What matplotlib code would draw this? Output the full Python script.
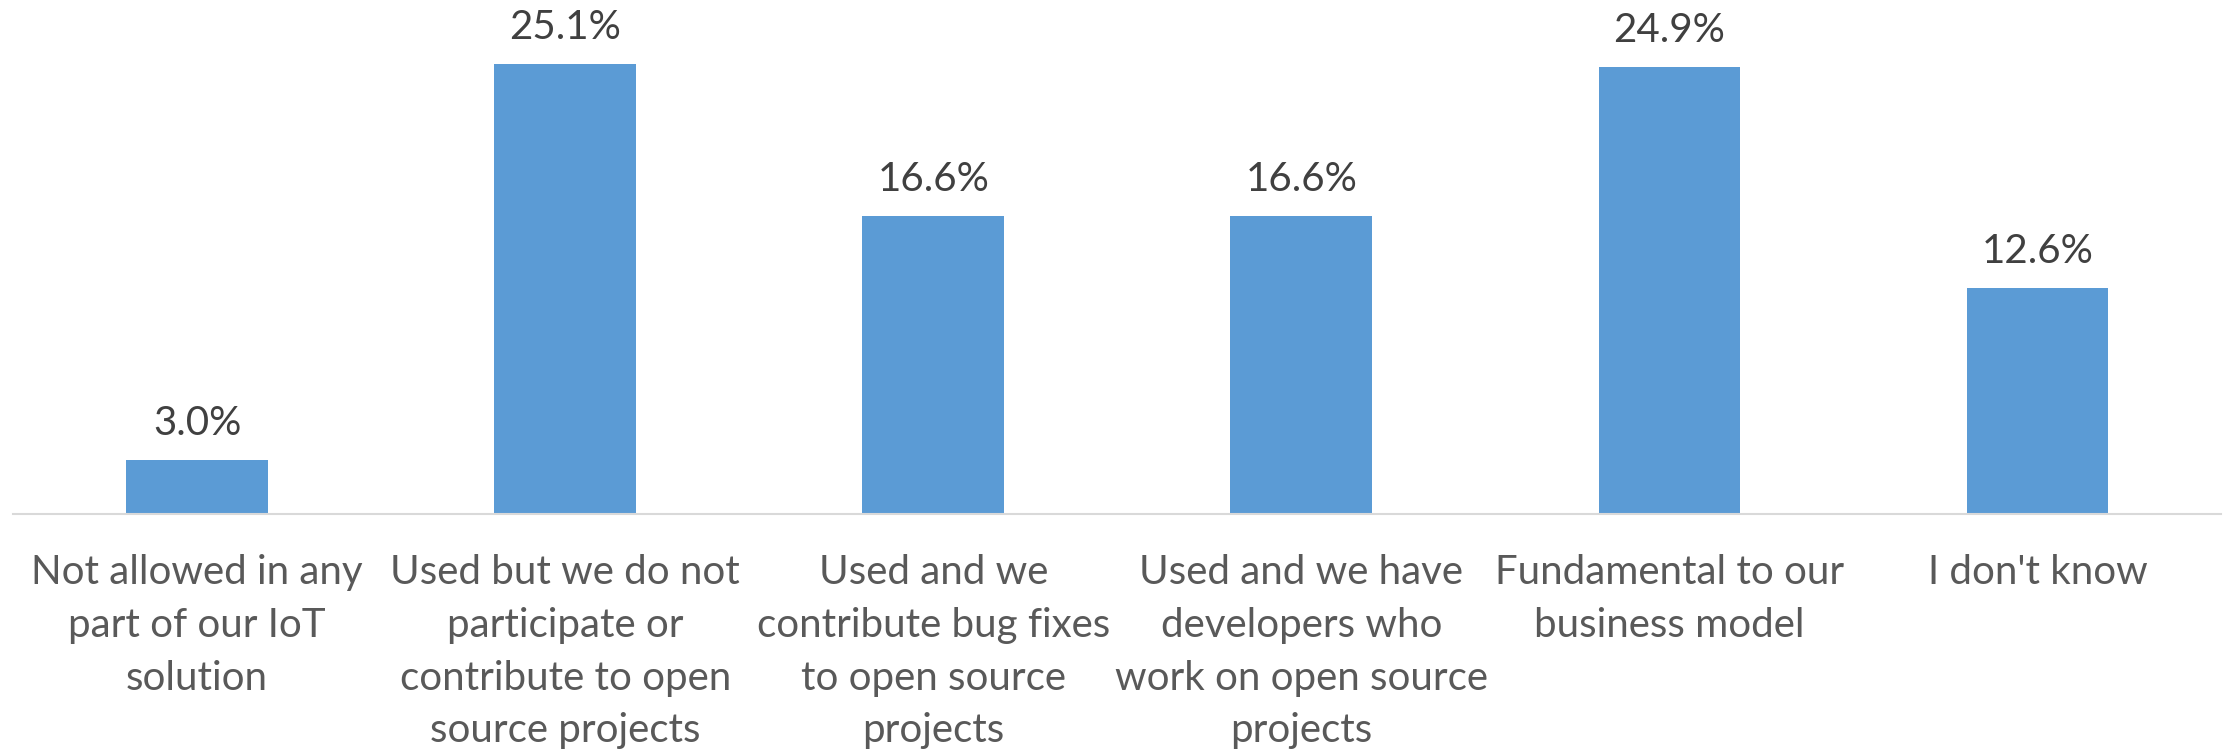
import matplotlib.pyplot as plt
import numpy as np

categories = [
    "Not allowed in any\npart of our IoT\nsolution",
    "Used but we do not\nparticipate or\ncontribute to open\nsource projects",
    "Used and we\ncontribute bug fixes\nto open source\nprojects",
    "Used and we have\ndevelopers who\nwork on open source\nprojects",
    "Fundamental to our\nbusiness model",
    "I don't know",
]
values = [3.0, 25.1, 16.6, 16.6, 24.9, 12.6]
value_labels = ["3.0%", "25.1%", "16.6%", "16.6%", "24.9%", "12.6%"]

plt.rcParams['font.family'] = ['Lato', 'DejaVu Sans']

fig = plt.figure(figsize=(22.23, 7.49), dpi=100)
ax = fig.add_axes([0.0059, 0.3144, 0.9934, 0.67])

x = np.arange(len(values))
bars = ax.bar(x, values, width=0.385, color='#5B9BD5', zorder=2)

for xi, v, lab in zip(x, values, value_labels):
    ax.annotate(lab, (xi, v), xytext=(0, 13), textcoords='offset points',
                ha='center', va='bottom', fontsize=29, color='#404040')

ax.set_xlim(-0.5, len(values) - 0.5)
ax.set_ylim(0, 28)
ax.set_xticks(x)
ax.set_xticklabels(categories, fontsize=29, color='#595959', linespacing=1.53)
ax.tick_params(axis='x', length=0, pad=29)
ax.set_yticks([])

for s in ['top', 'right', 'left']:
    ax.spines[s].set_visible(False)
ax.spines['bottom'].set_color('#D9D9D9')
ax.spines['bottom'].set_linewidth(1.5)

fig.savefig('out.png', dpi=100)
